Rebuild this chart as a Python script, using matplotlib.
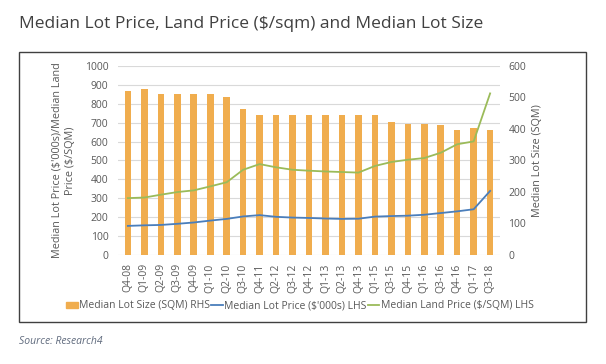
import matplotlib
matplotlib.use("Agg")
import matplotlib.pyplot as plt
from matplotlib.patches import Rectangle, Patch
from matplotlib.lines import Line2D

quarters = ["Q4-08", "Q1-09", "Q2-09", "Q3-09", "Q4-09", "Q1-10", "Q2-10", "Q3-10",
            "Q4-11", "Q2-12", "Q3-12", "Q4-12", "Q1-13", "Q2-13", "Q4-13", "Q1-15",
            "Q3-15", "Q4-15", "Q1-16", "Q3-16", "Q4-16", "Q1-17", "Q3-18"]
lot_size = [522, 527, 511, 511, 511, 511, 502, 464, 446, 443, 446, 446, 446, 443,
            445, 443, 423, 416, 416, 413, 396, 404, 396]
lot_price = [154, 157, 159, 165, 172, 182, 191, 204, 211, 202, 198, 196, 193, 191,
             192, 203, 206, 208, 213, 222, 231, 242, 339]
land_price = [301, 304, 319, 333, 342, 363, 385, 451, 481, 464, 451, 446, 442, 439,
              436, 471, 492, 504, 513, 541, 586, 601, 855]

FONT = ["Open Sans", "DejaVu Sans"]
plt.rcParams["font.family"] = FONT
TICK_C = "#595959"

fig = plt.figure(figsize=(6.06, 3.64), dpi=100)
fig.patch.set_facecolor("white")

ax = fig.add_axes([118/606, 1-255/364, (500-118)/606, (255-66)/364])
ax2 = ax.twinx()
ax.set_zorder(ax2.get_zorder() + 1)
ax.patch.set_visible(False)

x = list(range(len(quarters)))
ax2.bar(x, lot_size, width=0.4, color="#F0AD4E", zorder=2)
ax.plot(x, lot_price, color="#4A7EBB", lw=1.3, zorder=3)
ax.plot(x, land_price, color="#9BBB59", lw=1.3, zorder=3)

ax.set_ylim(0, 1000)
ax2.set_ylim(0, 600)
ax.set_xlim(-0.6, len(quarters) - 0.4)
ax.set_yticks(range(0, 1001, 100))
ax2.set_yticks(range(0, 601, 100))
ax2.yaxis.grid(False)
ax.yaxis.grid(False)
for v in range(0, 1001, 100):
    ax2.axhline(v * 0.6, color="#D9D9D9", lw=0.8, zorder=0)

ax.set_xticks(x)
ax.set_xticklabels(quarters, rotation=90, fontsize=7.5, color=TICK_C)
for a in (ax, ax2):
    for s in a.spines.values():
        s.set_visible(False)
ax.tick_params(axis="both", length=0, labelsize=7.5, labelcolor=TICK_C)
ax.tick_params(axis="y", pad=7)
ax.tick_params(axis="x", pad=6)
ax2.tick_params(axis="y", length=0, labelsize=7.5, labelcolor=TICK_C, pad=6)

ax.set_ylabel("Median Lot Price ($'000s)/Median Land\nPrice ($/SQM)", fontsize=7.8,
              color=TICK_C, linespacing=1.35, labelpad=6)
ax2.set_ylabel("Median Lot Size (SQM)", fontsize=7.8, color=TICK_C, labelpad=4)

handles = [Patch(color="#F0AD4E"),
           Line2D([], [], color="#4A7EBB", lw=1.3),
           Line2D([], [], color="#9BBB59", lw=1.3)]
labels = ["Median Lot Size (SQM) RHS", "Median Lot Price ($'000s) LHS",
          "Median Land Price ($/SQM) LHS"]
fig.legend(handles, labels, loc="center", bbox_to_anchor=(300/606, 1-306/364), ncol=3,
           frameon=False, fontsize=7.5, handlelength=1.1, handleheight=0.6,
           handletextpad=0.15, columnspacing=0.1, labelcolor=TICK_C, borderpad=0)

fig.patches.append(Rectangle((19/606, 1-322/364), (586-19)/606, (322-52)/364,
                             transform=fig.transFigure, fill=False,
                             edgecolor="#404040", lw=1.0))

fig.text(19/606, 1-24/364, "Median Lot Price, Land Price ($/sqm) and Median Lot Size",
         fontsize=12.5, color="#404040", va="center", ha="left")
fig.text(19/606, 1-341/364, "Source: Research4", fontsize=7.5, color="#5F6A7D",
         style="italic", va="center", ha="left")

fig.savefig("out.png", dpi=100)
